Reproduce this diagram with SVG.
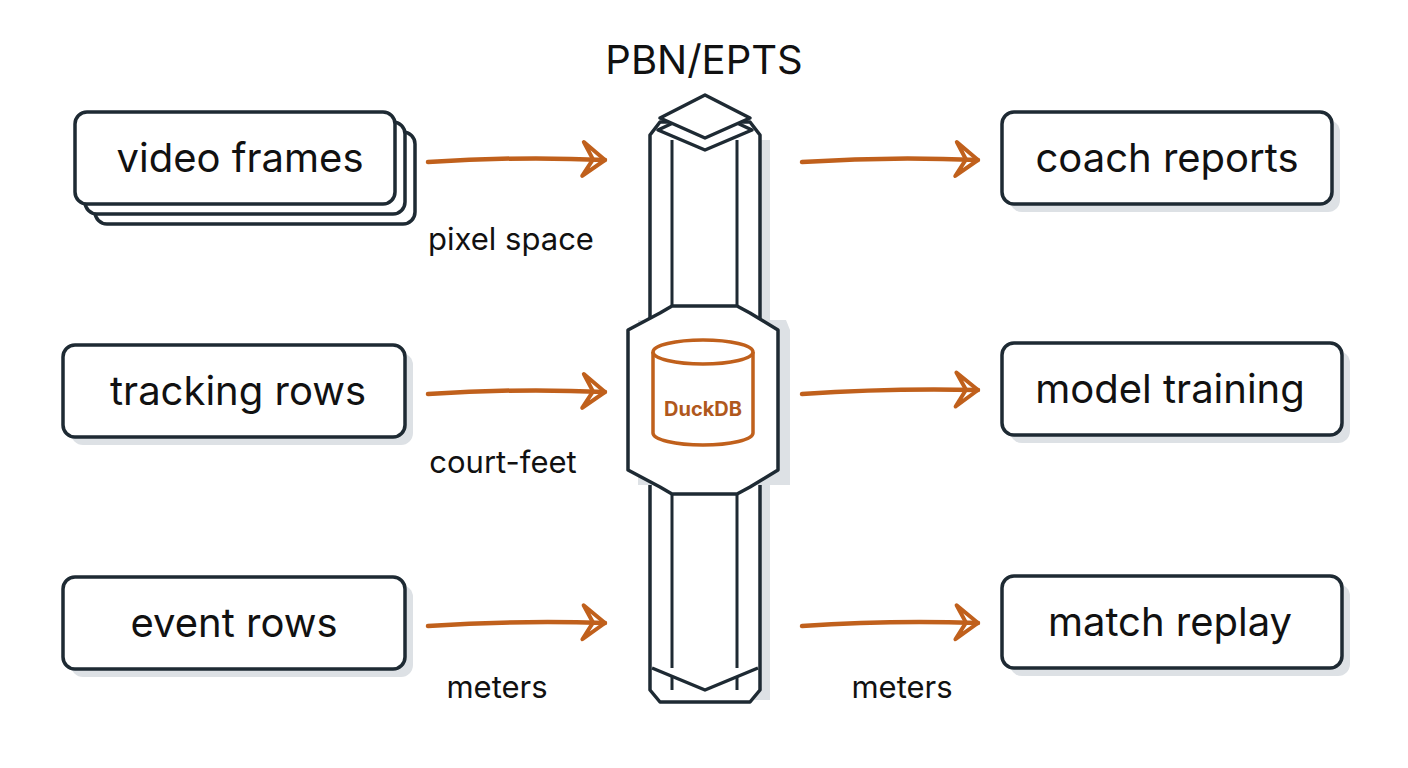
<svg xmlns="http://www.w3.org/2000/svg" width="1408" height="768" viewBox="0 0 1408 768">
<defs>
<style>
.box{fill:#fff;stroke:#1e2a33;stroke-width:3.5}
.sh{fill:#dde1e5}
.t{font-family:"Inter","Liberation Sans",sans-serif;font-size:40px;fill:#111;text-anchor:middle}
.l{font-family:"Inter","Liberation Sans",sans-serif;font-size:31px;fill:#111;text-anchor:middle}
.a{fill:none;stroke:#c0601c;stroke-width:4.5;stroke-linecap:round;stroke-linejoin:round}
.c{fill:#fff;stroke:#1e2a33;stroke-width:3.5;stroke-linejoin:round}
</style>
<marker id="ah" markerWidth="40" markerHeight="44" refX="34" refY="22" orient="auto" markerUnits="userSpaceOnUse">
<path d="M12 5 L34 22 L12 39 L22 22 Z" fill="none" stroke="#c0601c" stroke-width="4" stroke-linejoin="round" stroke-linecap="round"/>
</marker>
</defs>
<rect width="1408" height="768" fill="#fff"/>
<text class="t" x="704" y="74" font-size="39">PBN/EPTS</text>

<g id="video-frames">
<rect class="box" x="95" y="132" width="320" height="92" rx="12"/>
<rect class="box" x="85" y="122" width="320" height="92" rx="12"/>
<rect class="box" x="75" y="112" width="320" height="92" rx="12"/>
<text class="t" x="240" y="172">video frames</text>
</g>
<g id="tracking-rows">
<rect class="sh" x="71" y="353" width="342" height="92" rx="12"/>
<rect class="box" x="63" y="345" width="342" height="92" rx="12"/>
<text class="t" x="238" y="405">tracking rows</text>
</g>
<g id="event-rows">
<rect class="sh" x="71" y="585" width="342" height="92" rx="12"/>
<rect class="box" x="63" y="577" width="342" height="92" rx="12"/>
<text class="t" x="234" y="637">event rows</text>
</g>
<g id="coach-reports">
<rect class="sh" x="1010" y="120" width="330" height="92" rx="12"/>
<rect class="box" x="1002" y="112" width="330" height="92" rx="12"/>
<text class="t" x="1167" y="172">coach reports</text>
</g>
<g id="model-training">
<rect class="sh" x="1010" y="351" width="340" height="92" rx="12"/>
<rect class="box" x="1002" y="343" width="340" height="92" rx="12"/>
<text class="t" x="1170" y="403">model training</text>
</g>
<g id="match-replay">
<rect class="sh" x="1010" y="584" width="340" height="92" rx="12"/>
<rect class="box" x="1002" y="576" width="340" height="92" rx="12"/>
<text class="t" x="1170" y="636">match replay</text>
</g>

<g id="pbn-column">
<rect x="742" y="140" width="28" height="560" fill="#dde1e5"/>
<path class="c" d="M650 135 L660 122 L750 122 L760 135 L760 690 L750 702 L660 702 L650 690 Z"/>
<line x1="672" y1="140" x2="672" y2="690" stroke="#1e2a33" stroke-width="3"/>
<line x1="737" y1="140" x2="737" y2="690" stroke="#1e2a33" stroke-width="3"/>
<path class="c" d="M658 130 L705 108 L752 130 L705 150 Z" fill="#f4f5f7"/>
<path class="c" d="M660 118 L705 95 L750 118 L705 138 Z"/>
<path class="c" d="M652 668 L705 690 L758 668" fill="none"/>
<path d="M638 320 L786 320 L790 330 L790 485 L638 485 Z" fill="#dde1e5"/>
<path class="c" d="M660 313 L672 306 L737 306 L750 313 L778 330 L778 470 L750 487 L737 494 L672 494 L660 487 L628 470 L628 330 Z"/>
<g id="duckdb">
<path d="M653 352 L653 433 A50 12 0 0 0 753 433 L753 352" fill="#fff" stroke="#c0601c" stroke-width="3.5"/>
<ellipse cx="703" cy="352" rx="50" ry="12" fill="#fff" stroke="#c0601c" stroke-width="3.5"/>
<text x="703" y="416" font-family="Inter,'Liberation Sans',sans-serif" font-size="20" font-weight="bold" fill="#b0581c" text-anchor="middle">DuckDB</text>
</g>
</g>

<g id="connectors">
<path class="a" marker-end="url(#ah)" d="M428 162 Q520 156 605 160"/>
<path class="a" marker-end="url(#ah)" d="M428 394 Q520 388 605 392"/>
<path class="a" marker-end="url(#ah)" d="M428 626 Q520 620 605 623"/>
<path class="a" marker-end="url(#ah)" d="M802 162 Q890 156 978 160"/>
<path class="a" marker-end="url(#ah)" d="M802 394 Q890 388 978 390"/>
<path class="a" marker-end="url(#ah)" d="M802 626 Q890 620 978 623"/>
<text class="l" x="511" y="250">pixel space</text>
<text class="l" x="503" y="473">court-feet</text>
<text class="l" x="497" y="698">meters</text>
<text class="l" x="902" y="698">meters</text>
</g>
</svg>
